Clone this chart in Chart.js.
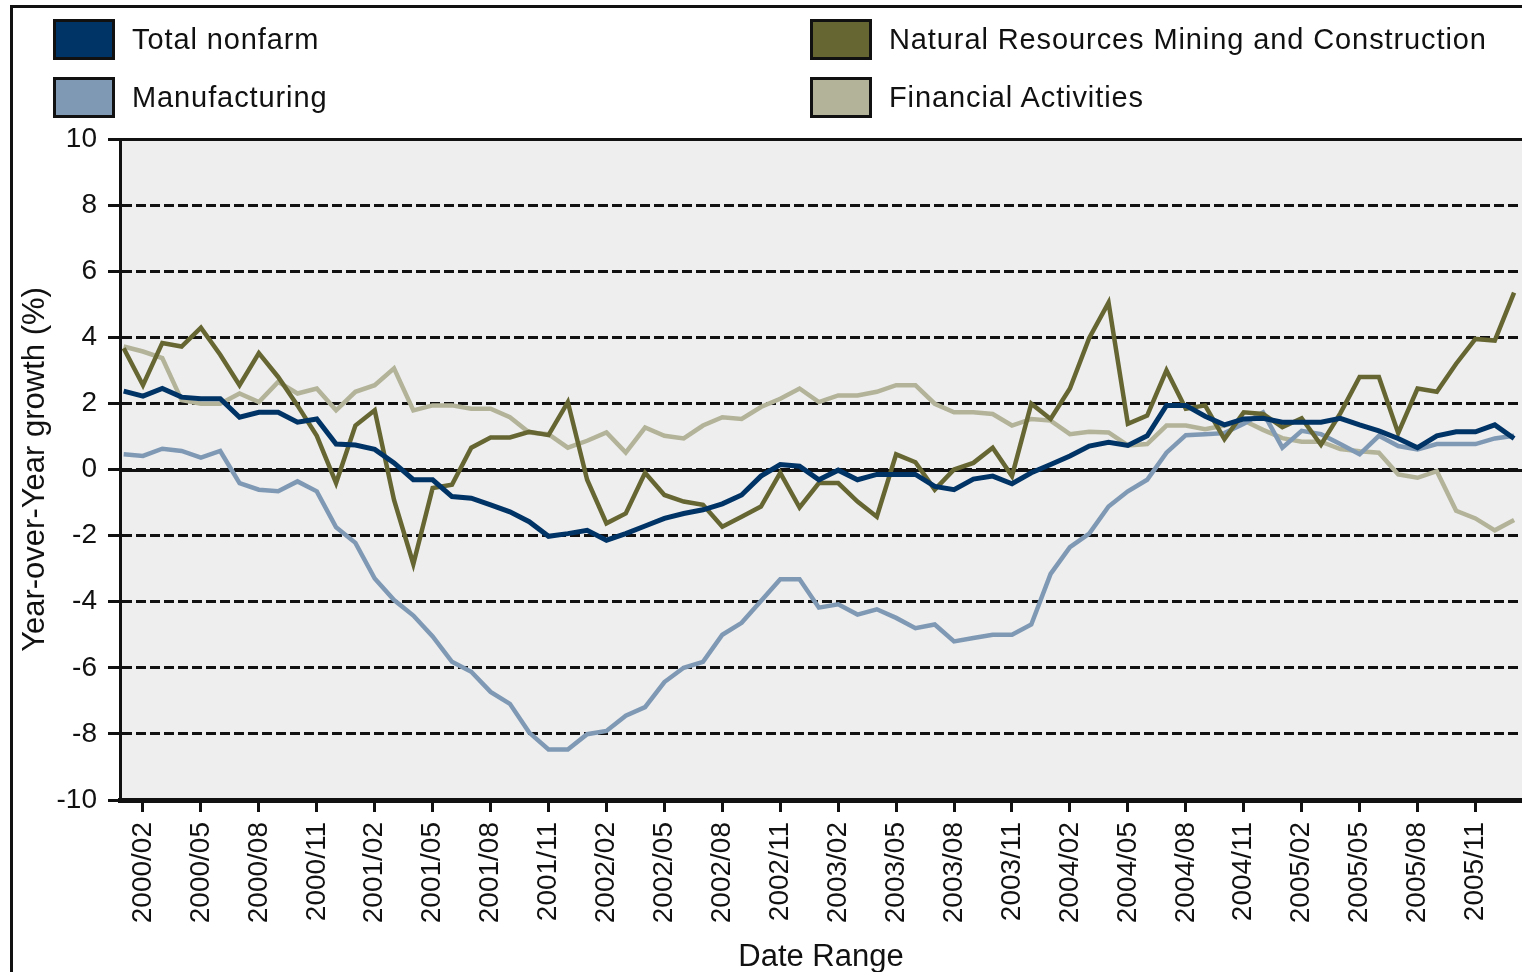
<!DOCTYPE html>
<html>
<head>
<meta charset="utf-8">
<script src="https://cdn.jsdelivr.net/npm/chart.js@4.4.0/dist/chart.umd.min.js"></script>
<style>
  html, body { margin: 0; padding: 0; background: #fff; overflow: hidden; width: 1522px; height: 972px; }
  #frame { position: absolute; left: 10px; top: 5px; width: 1600px; height: 1100px; border-top: 3px solid #111; border-left: 3px solid #111; }
  #wrap { position: absolute; left: 0; top: 0; width: 1522px; height: 990px; }
  .leg { position: absolute; display: flex; align-items: center; font-family: "Liberation Sans", Arial, sans-serif; font-size: 29px; letter-spacing: 0.9px; color: #111; white-space: nowrap; }
  .leg .sw { display: inline-block; width: 56px; height: 35px; border: 3px solid #111; margin-right: 17px; }
</style>
</head>
<body>
<div id="frame"></div>
<div id="wrap"><canvas id="chart" width="1522" height="990"></canvas></div>
<div id="legend"></div>
<script>
// monthly, 2000/01 .. 2006/01
const months = [
  "2000/01","2000/02","2000/03","2000/04","2000/05","2000/06","2000/07","2000/08","2000/09","2000/10","2000/11","2000/12",
  "2001/01","2001/02","2001/03","2001/04","2001/05","2001/06","2001/07","2001/08","2001/09","2001/10","2001/11","2001/12",
  "2002/01","2002/02","2002/03","2002/04","2002/05","2002/06","2002/07","2002/08","2002/09","2002/10","2002/11","2002/12",
  "2003/01","2003/02","2003/03","2003/04","2003/05","2003/06","2003/07","2003/08","2003/09","2003/10","2003/11","2003/12",
  "2004/01","2004/02","2004/03","2004/04","2004/05","2004/06","2004/07","2004/08","2004/09","2004/10","2004/11","2004/12",
  "2005/01","2005/02","2005/03","2005/04","2005/05","2005/06","2005/07","2005/08","2005/09","2005/10","2005/11","2005/12",
  "2006/01"
];
const tickMonths = [
  "2000/02","2000/05","2000/08","2000/11","2001/02","2001/05","2001/08","2001/11",
  "2002/02","2002/05","2002/08","2002/11","2003/02","2003/05","2003/08","2003/11",
  "2004/02","2004/05","2004/08","2004/11","2005/02","2005/05","2005/08","2005/11"
];

const totalNonfarm = [
  2.37, 2.22, 2.45, 2.19, 2.14, 2.14, 1.58, 1.73, 1.73, 1.43, 1.53, 0.77,
  0.74, 0.61, 0.2, -0.31, -0.31, -0.82, -0.87, -1.07, -1.28, -1.58, -2.02, -1.94,
  -1.84, -2.14, -1.94, -1.71, -1.48, -1.33, -1.22, -1.04, -0.77, -0.2, 0.15, 0.1,
  -0.31, -0.02, -0.31, -0.15, -0.15, -0.15, -0.51, -0.61, -0.29, -0.2, -0.43, -0.1,
  0.15, 0.41, 0.71, 0.82, 0.73, 1.02, 1.94, 1.94, 1.61, 1.35, 1.53, 1.55,
  1.43, 1.43, 1.43, 1.55, 1.35, 1.17, 0.94, 0.66, 1.02, 1.14, 1.14, 1.35,
  0.94
];
const manufacturing = [
  0.46, 0.41, 0.63, 0.56, 0.36, 0.56, -0.41, -0.61, -0.66, -0.36, -0.66, -1.75,
  -2.22, -3.3, -3.95, -4.42, -5.05, -5.82, -6.12, -6.73, -7.09, -7.96, -8.47, -8.47,
  -8.01, -7.91, -7.45, -7.19, -6.43, -6.0, -5.82, -5.0, -4.64, -3.98, -3.32, -3.32,
  -4.18, -4.08, -4.39, -4.23, -4.49, -4.8, -4.69, -5.2, -5.1, -5.0, -5.0, -4.69,
  -3.16, -2.35, -1.94, -1.12, -0.66, -0.31, 0.51, 1.04, 1.07, 1.1, 1.38, 1.73,
  0.66, 1.17, 1.07, 0.77, 0.46, 1.02, 0.71, 0.61, 0.77, 0.77, 0.77, 0.94,
  1.02
];
const naturalResources = [
  3.67, 2.55, 3.83, 3.72, 4.29, 3.47, 2.55, 3.52, 2.8, 1.94, 1.02, -0.41,
  1.33, 1.79, -0.92, -2.86, -0.56, -0.46, 0.66, 0.97, 0.97, 1.14, 1.04, 2.04,
  -0.31, -1.63, -1.33, -0.1, -0.77, -0.97, -1.07, -1.73, -1.43, -1.12, -0.1, -1.15,
  -0.41, -0.41, -0.97, -1.43, 0.46, 0.22, -0.61, 0.0, 0.2, 0.66, -0.2, 1.99,
  1.53, 2.45, 3.98, 5.05, 1.38, 1.63, 3.0, 1.84, 1.94, 0.92, 1.73, 1.68,
  1.28, 1.55, 0.75, 1.7, 2.8, 2.8, 1.1, 2.45, 2.35, 3.2, 3.95, 3.9,
  5.35
];
const financial = [
  3.72, 3.57, 3.37, 2.1, 1.99, 1.99, 2.3, 2.04, 2.65, 2.3, 2.45, 1.79,
  2.35, 2.55, 3.06, 1.79, 1.94, 1.94, 1.84, 1.84, 1.58, 1.12, 1.07, 0.66,
  0.87, 1.12, 0.51, 1.27, 1.02, 0.94, 1.33, 1.58, 1.53, 1.89, 2.14, 2.45,
  2.04, 2.24, 2.24, 2.35, 2.55, 2.55, 1.99, 1.73, 1.73, 1.68, 1.33, 1.53,
  1.48, 1.07, 1.14, 1.12, 0.73, 0.77, 1.33, 1.33, 1.22, 1.33, 1.48, 1.2,
  0.95, 0.84, 0.84, 0.62, 0.55, 0.51, -0.15, -0.25, -0.05, -1.25, -1.48, -1.84,
  -1.53
];

const FONT = '"Liberation Sans", Arial, sans-serif';
const INK = "#111111";

const series = [
  { label: "Total nonfarm", data: totalNonfarm, color: "#003366", width: 5 },
  { label: "Natural Resources Mining and Construction", data: naturalResources, color: "#666633", width: 4.5 },
  { label: "Manufacturing", data: manufacturing, color: "#7f99b5", width: 4.5 },
  { label: "Financial Activities", data: financial, color: "#b3b399", width: 4.5 }
];

// legend, two columns like the original
const legendSpots = {
  "Total nonfarm": [53, 19],
  "Manufacturing": [53, 77],
  "Natural Resources Mining and Construction": [810, 19],
  "Financial Activities": [810, 77]
};
const legendBox = document.getElementById("legend");
series.forEach(s => {
  const [x, y] = legendSpots[s.label];
  const item = document.createElement("div");
  item.className = "leg";
  item.style.left = x + "px";
  item.style.top = y + "px";
  item.innerHTML = `<span class="sw" style="background:${s.color}"></span><span>${s.label}</span>`;
  legendBox.appendChild(item);
});

const plotBg = {
  id: "plotBg",
  beforeDraw(chart) {
    const { ctx, chartArea: a } = chart;
    ctx.save();
    ctx.fillStyle = "#eeeeee";
    ctx.fillRect(a.left, a.top, a.right - a.left, a.bottom - a.top);
    ctx.restore();
  }
};

// zero line and top edge are solid in the original
const solidLines = {
  id: "solidLines",
  beforeDatasetsDraw(chart) {
    const { ctx, chartArea: a, scales } = chart;
    ctx.save();
    ctx.strokeStyle = INK;
    ctx.lineWidth = 3;
    [0, 10].forEach(v => {
      const y = Math.round(scales.y.getPixelForValue(v)) + 0.5;
      ctx.beginPath();
      ctx.moveTo(a.left, y);
      ctx.lineTo(a.right, y);
      ctx.stroke();
    });
    ctx.restore();
  }
};

new Chart(document.getElementById("chart"), {
  type: "line",
  data: {
    datasets: series.map(s => ({
      label: s.label,
      data: s.data.map((v, i) => ({ x: i, y: v })),
      borderColor: s.color,
      backgroundColor: s.color,
      borderWidth: s.width,
      pointRadius: 0,
      tension: 0,
      fill: false
    }))
  },
  options: {
    responsive: false,
    animation: false,
    devicePixelRatio: 1,
    layout: { padding: { top: 139, left: 0, right: 0, bottom: 0 } },
    plugins: { legend: { display: false }, tooltip: { enabled: false } },
    scales: {
      x: {
        type: "linear",
        min: -0.19,
        max: 72.41,
        afterBuildTicks(scale) {
          scale.ticks = tickMonths.map(m => ({ value: months.indexOf(m) }));
        },
        afterFit(scale) { scale.height = 190; },
        ticks: {
          autoSkip: false,
          maxRotation: 90,
          minRotation: 90,
          padding: 10,
          color: INK,
          font: { family: FONT, size: 28 },
          callback: v => months[v]
        },
        grid: { drawOnChartArea: false, tickLength: 12, tickWidth: 3, tickColor: INK, color: INK },
        border: { display: true, color: INK, width: 5 },
        title: {
          display: true,
          text: "Date Range",
          color: INK,
          font: { family: FONT, size: 31 },
          padding: { top: 0, bottom: 14 }
        }
      },
      y: {
        min: -10,
        max: 10,
        afterFit(scale) { scale.width = 120; },
        ticks: {
          stepSize: 2,
          padding: 11,
          color: INK,
          font: { family: FONT, size: 28 }
        },
        grid: { color: INK, lineWidth: 3, tickLength: 12, tickWidth: 3, tickColor: INK },
        border: { display: true, color: INK, width: 3, dash: [10, 4] },
        title: {
          display: true,
          text: "Year-over-Year growth (%)",
          color: INK,
          font: { family: FONT, size: 31 },
          padding: { top: 17, bottom: 0 }
        }
      }
    }
  },
  plugins: [plotBg, solidLines]
});
</script>
</body>
</html>
